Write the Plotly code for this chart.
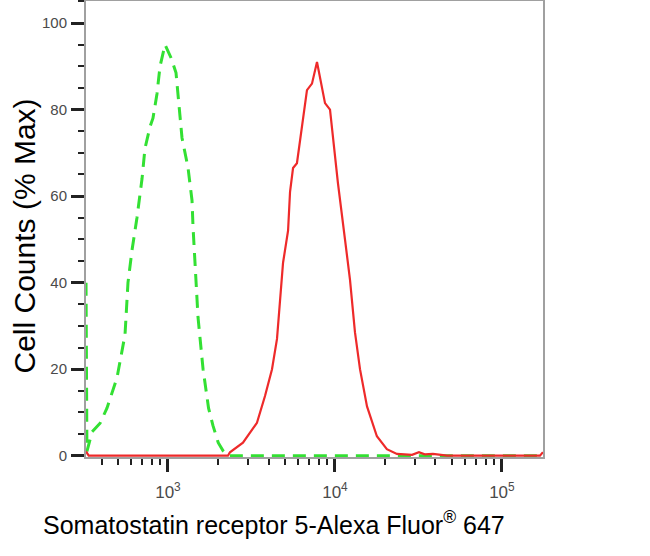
import plotly.graph_objects as go

# Isotype control (green dashed)
ctrl_x = [323, 327, 351, 392, 431, 495, 553, 576, 609, 652, 699, 728, 780, 813, 859, 896,
          960, 1042, 1117, 1213, 1318, 1393, 1412, 1460, 1513, 1622, 1750, 1858, 2000, 2133,
          2286, 176000]
ctrl_y = [40, 1, 5.5, 7.5, 11, 18, 28, 40, 47.5, 55, 64, 71, 76, 78, 83.6, 90,
          95, 92, 88.5, 73.5, 66.6, 59, 53, 43, 32, 20, 11, 7, 3, 1.2,
          0, 0]

# Somatostatin receptor 5 stained (red)
samp_x = [323, 335, 2286, 2350, 2812, 3411, 3811, 4198, 4497, 4690, 4888, 5238, 5383, 5610,
          5920, 6798, 7285, 7806, 8136, 8718, 9341, 10420, 11483, 12303, 13183, 14125, 15560,
          17830, 20460, 23500, 28960, 31840, 34500, 38630, 46880, 169000, 176000]
samp_y = [1.0, 0, 0, 0.8, 3, 7.6, 13.8, 20, 27, 37, 44.6, 52, 61, 66.5,
          67.6, 84.5, 86, 91, 87.6, 81.5, 80, 63, 50, 40.7, 28.5, 20, 11.4,
          4.5, 1.5, 0.4, 0.2, 0.8, 0.3, 0.4, 0, 0, 0.8]

x_tickvals = [1000, 10000, 100000]
x_ticktext = ["10<sup>3</sup>", "10<sup>4</sup>", "10<sup>5</sup>"]
x_minor = [400, 500, 600, 700, 800, 900,
           2000, 3000, 4000, 5000, 6000, 7000, 8000, 9000,
           20000, 30000, 40000, 50000, 60000, 70000, 80000, 90000]
y_tickvals = [0, 20, 40, 60, 80, 100]
x_title = "Somatostatin receptor 5-Alexa Fluor<sup>®</sup> 647"
y_title = "Cell Counts (% Max)"

fig = go.Figure()
fig.add_trace(go.Scatter(x=ctrl_x, y=ctrl_y, mode="lines",
                         line=dict(color="#33e033", width=3, dash="13px,8px"),
                         showlegend=False))
fig.add_trace(go.Scatter(x=samp_x, y=samp_y, mode="lines",
                         line=dict(color="#ee2a2a", width=2.2),
                         showlegend=False))

fig.update_layout(
    width=650, height=556,
    margin=dict(l=86, r=107, t=1, b=99),
    paper_bgcolor="white", plot_bgcolor="white",
    font=dict(family="Liberation Sans, Arial, sans-serif"),
    xaxis=dict(
        type="log", range=[2.509, 5.246], automargin=False,
        tickmode="array", tickvals=x_tickvals, ticktext=x_ticktext,
        ticks="outside", ticklen=13, tickwidth=3, tickcolor="#222222",
        tickfont=dict(size=17, color="#4a4a4a"),
        ticklabelstandoff=6,
        minor=dict(tickmode="array", tickvals=x_minor, ticks="outside",
                   ticklen=6, tickwidth=1.5, tickcolor="#222222"),
        showline=True, linecolor="#a0a0a0", linewidth=2, mirror=True,
        showgrid=False, zeroline=False,
    ),
    yaxis=dict(
        range=[-0.3, 105.1], automargin=False,
        tickmode="array", tickvals=y_tickvals,
        ticks="outside", ticklen=13, tickwidth=3, tickcolor="#222222",
        tickfont=dict(size=15, color="#4a4a4a"),
        ticklabelstandoff=1,
        minor=dict(dtick=5, ticks="outside", ticklen=6, tickwidth=1.5, tickcolor="#222222"),
        showline=True, linecolor="#a0a0a0", linewidth=2, mirror=True,
        showgrid=False, zeroline=False,
    ),
)
fig.add_annotation(text=x_title, xref="paper", yref="paper",
                   x=(274 - 86) / 457, y=-66 / 455, xanchor="center", yanchor="middle",
                   showarrow=False, font=dict(size=25, color="#000000"))
fig.add_annotation(text=y_title, xref="paper", yref="paper", textangle=-90,
                   x=(25 - 86) / 457, y=(456 - 236) / 455, xanchor="center", yanchor="middle",
                   showarrow=False, font=dict(size=30, color="#000000"))

fig.write_html("out.html", config={"displayModeBar": False},
               post_script="document.body.style.margin='0';")
